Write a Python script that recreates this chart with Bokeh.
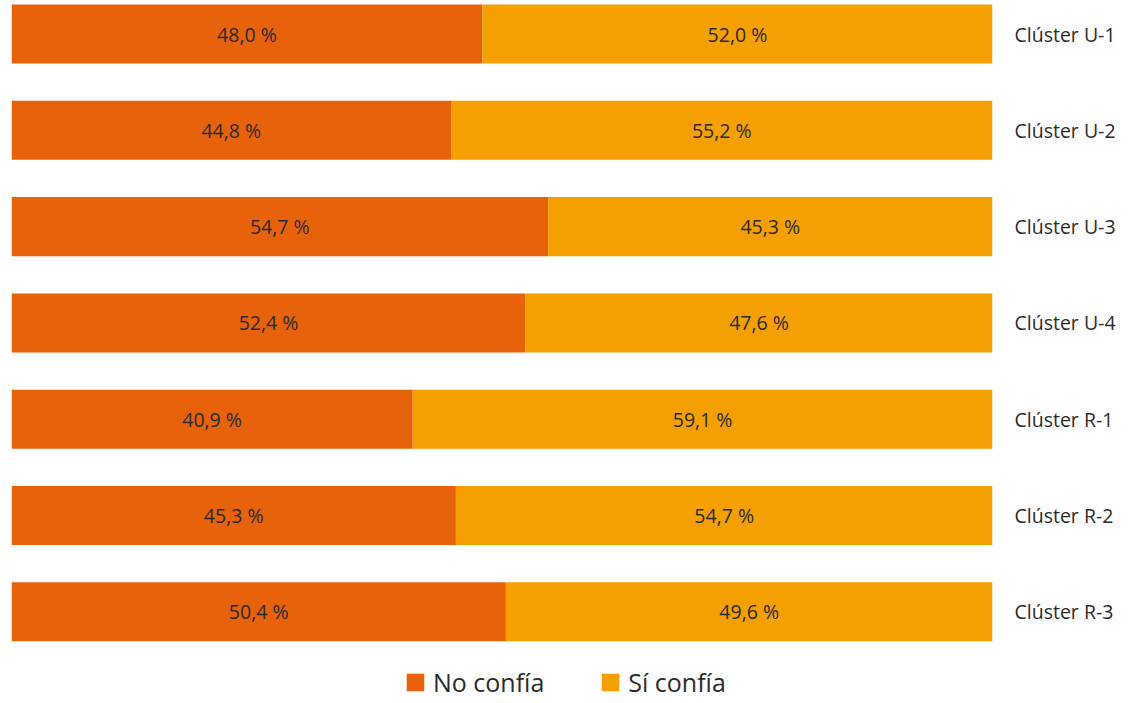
from bokeh.plotting import figure
from bokeh.models import (ColumnDataSource, Range1d, LinearAxis, FixedTicker,
                          Legend, LegendItem)
from bokeh.embed import file_html
from bokeh.resources import INLINE
from bokeh.core.properties import value

categories = ["Clúster U-1", "Clúster U-2", "Clúster U-3", "Clúster U-4",
              "Clúster R-1", "Clúster R-2", "Clúster R-3"]
no_confia = [48.0, 44.8, 54.7, 52.4, 40.9, 45.3, 50.4]
si_confia = [52.0, 55.2, 45.3, 47.6, 59.1, 54.7, 49.6]
series_names = ["No confía", "Sí confía"]
colors = ["#E8620C", "#F5A000"]

FONT = "Open Sans"
TXT = "#2b2b2b"

def fmt(v):
    return f"{v:.1f}".replace(".", ",") + " %"

ypos = list(range(len(categories)))
src = ColumnDataSource(dict(
    y=ypos,
    no_end=no_confia,
    si_start=no_confia,
    si_end=[a + b for a, b in zip(no_confia, si_confia)],
    no_mid=[a / 2 for a in no_confia],
    si_mid=[a + b / 2 for a, b in zip(no_confia, si_confia)],
    no_lbl=[fmt(v) for v in no_confia],
    si_lbl=[fmt(v) for v in si_confia],
))

H = 699
top_val = -0.348
unit_px = 96.3
p = figure(frame_width=981, frame_height=H, output_backend="svg",
           toolbar_location=None,
           x_range=Range1d(0, 100),
           y_range=Range1d(top_val + H / unit_px, top_val),
           x_axis_location=None, y_axis_location=None,
           min_border_left=11, min_border_right=10,
           min_border_top=0, min_border_bottom=0)
p.outline_line_color = None
p.xgrid.visible = False
p.ygrid.visible = False
p.background_fill_color = "white"
p.border_fill_color = "white"

bh = 0.613
r_no = p.hbar(y="y", left=0, right="no_end", height=bh, source=src,
              fill_color=colors[0], line_color=None)
r_si = p.hbar(y="y", left="si_start", right="si_end", height=bh, source=src,
              fill_color=colors[1], line_color=None)

p.text(x="no_mid", y="y", text="no_lbl", source=src, text_align="center",
       text_baseline="middle", text_font=value(FONT), text_font_size="19.5px",
       text_color=TXT)
p.text(x="si_mid", y="y", text="si_lbl", source=src, text_align="center",
       text_baseline="middle", text_font=value(FONT), text_font_size="19.5px",
       text_color=TXT)

ax = LinearAxis(ticker=FixedTicker(ticks=ypos),
                major_label_overrides={i: c for i, c in enumerate(categories)})
ax.axis_line_color = None
ax.major_tick_line_color = None
ax.minor_tick_line_color = None
ax.major_label_standoff = 16
ax.major_label_text_font = FONT
ax.major_label_text_font_size = "19.5px"
ax.major_label_text_color = TXT
p.add_layout(ax, "right")

legend = Legend(items=[LegendItem(label=series_names[0], renderers=[r_no]),
                       LegendItem(label=series_names[1], renderers=[r_si])],
                orientation="horizontal", location=(393, 0))
legend.glyph_width = 22
legend.glyph_height = 22
legend.label_text_font = FONT
legend.label_text_font_size = "25px"
legend.label_text_color = TXT
legend.label_standoff = 7
legend.spacing = 55
legend.padding = 0
legend.margin = 0
legend.border_line_color = None
legend.background_fill_alpha = 0
p.add_layout(legend)

open("out.html", "w").write(file_html(p, INLINE))
